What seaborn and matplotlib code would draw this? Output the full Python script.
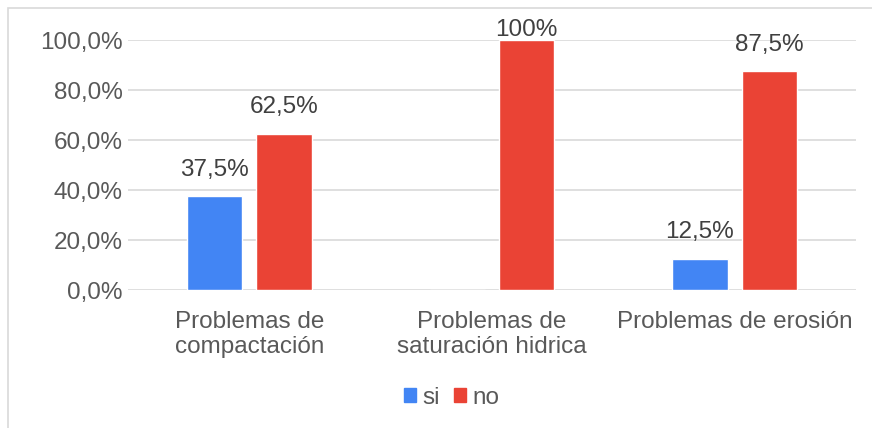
import pandas as pd
import numpy as np
import matplotlib.pyplot as plt
import seaborn as sns
from matplotlib.patches import Rectangle, Patch

categorias = ['Problemas de\ncompactación', 'Problemas de\nsaturación hidrica', 'Problemas de erosión']
si = [37.5, 0.0, 12.5]
no = [62.5, 100.0, 87.5]
etiquetas_si = ['37,5%', '', '12,5%']
etiquetas_no = ['62,5%', '100%', '87,5%']

df = pd.DataFrame({
    'categoria': categorias * 2,
    'serie': ['si'] * 3 + ['no'] * 3,
    'valor': si + no,
})

sns.set_style('white')
plt.rcParams['font.family'] = ['Liberation Sans', 'DejaVu Sans']
gris = '#595959'
fs = 17.5

fig = plt.figure(figsize=(8.72, 4.28), dpi=100)
ax = fig.add_axes([128 / 872, 1 - 290 / 428, (856 - 128) / 872, 250 / 428])

sns.barplot(data=df, x='categoria', y='valor', hue='serie', ax=ax,
            palette={'si': '#4285F4', 'no': '#EA4335'}, width=0.572, gap=0.2,
            saturation=1, legend=False)

ax.set_ylim(0, 100)
ax.set_yticks(np.arange(0, 101, 20))
ax.set_yticklabels([f'{v},0%' for v in range(0, 101, 20)], fontsize=fs, color=gris)
ax.tick_params(axis='x', labelsize=fs, labelcolor=gris, length=0, pad=15)
ax.tick_params(axis='y', length=0, pad=4)
for t in ax.get_xticklabels():
    t.set_linespacing(1.2)
ax.set_xlabel('')
ax.set_ylabel('')
ax.grid(axis='y', color='#d9d9d9', linewidth=1.2)
ax.set_axisbelow(True)
for s in ax.spines.values():
    s.set_visible(False)

# etiquetas de datos (la de 100% queda pegada al borde superior)
ax.bar_label(ax.containers[0], labels=etiquetas_si, padding=11, fontsize=fs, color='#404040')
arriba = [l if v < 100 else '' for l, v in zip(etiquetas_no, no)]
ax.bar_label(ax.containers[1], labels=arriba, padding=11, fontsize=fs, color='#404040')
tope = [l if v >= 100 else '' for l, v in zip(etiquetas_no, no)]
ax.bar_label(ax.containers[1], labels=tope, padding=-1, fontsize=fs, color='#404040')

handles = [Patch(color='#4285F4', label='si'), Patch(color='#EA4335', label='no')]
fig.legend(handles=handles, loc='center', bbox_to_anchor=(0.518, 1 - 398 / 428), ncol=2,
           frameon=False, fontsize=fs, handlelength=0.5, handleheight=0.5,
           handletextpad=0.25, columnspacing=0.6, labelcolor=gris)

fig.patches.append(Rectangle((8 / 872, -0.05), 1.2, 1 - 8 / 428 + 0.05, transform=fig.transFigure,
                             fill=False, edgecolor='#d9d9d9', linewidth=1.2))

plt.savefig('out.png', dpi=100)
